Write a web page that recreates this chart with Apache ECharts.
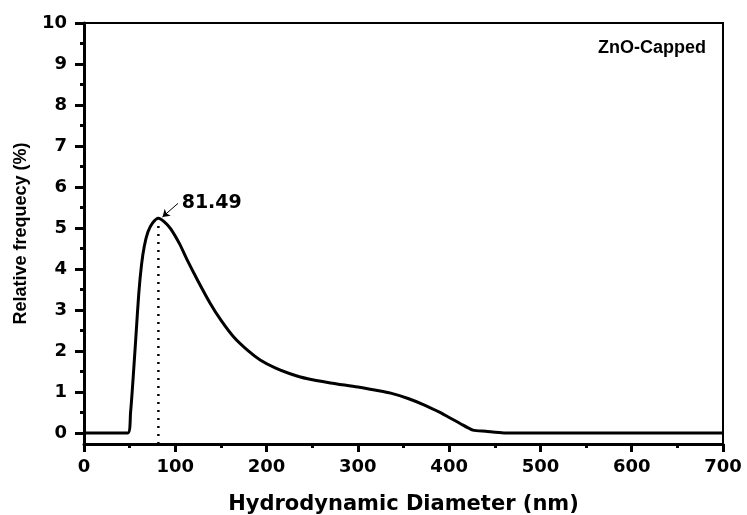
<!DOCTYPE html>
<html lang="en">
<head>
  <meta charset="UTF-8">
  <title>ZnO-Capped DLS</title>
  <script src="https://cdn.jsdelivr.net/npm/echarts@6/dist/echarts.min.js"></script>
  <style>
    html, body { margin: 0; padding: 0; background: #fff; }
  </style>
</head>
<body>
<!--粒径分布曲线-->
<div id="main" style="width:747px;height:515px;"></div>
<script>
  //粒径 nm
  const diameter = [0, 48, 51, 54, 57, 60, 63, 66, 70, 75, 81.5, 88, 95, 105, 113, 125, 138, 150, 164, 180, 193, 210, 225, 245, 270, 300, 320, 336, 355, 373, 390, 399, 412, 426, 440, 460, 700];
  //相对频率 %
  const frequency = [0, 0, 0.5, 1.4, 2.4, 3.4, 4.1, 4.55, 4.9, 5.12, 5.24, 5.15, 4.98, 4.6, 4.22, 3.7, 3.17, 2.75, 2.34, 2.0, 1.78, 1.58, 1.45, 1.32, 1.22, 1.12, 1.04, 0.97, 0.84, 0.68, 0.5, 0.39, 0.23, 0.07, 0.04, 0, 0];
  //峰值
  const peakX = 81.49;
  const peakY = 5.24;
  const yMin = -0.27;
  const yMajor = [0, 1, 2, 3, 4, 5, 6, 7, 8, 9, 10];
  const yMinor = [0.5, 1.5, 2.5, 3.5, 4.5, 5.5, 6.5, 7.5, 8.5, 9.5];

  const font = 'DejaVu Sans, sans-serif';
  const arial = 'Liberation Sans, Arial, sans-serif';
  let myChart = echarts.init(document.getElementById('main'));
  let option = {
    backgroundColor: '#fff',
    animation: false,
    grid: {
      left: 84, right: 24, top: 23, bottom: 71,
      outerBoundsMode: 'none', containLabel: false,
      show: true, borderColor: '#000', borderWidth: 2
    },
    graphic: [{
      type: 'text', right: 41, top: 39,
      style: { text: 'ZnO-Capped', font: 'bold 18px ' + arial, fill: '#000' }
    }],
    xAxis: {
      type: 'value', min: 0, max: 700, interval: 100,
      name: 'Hydrodynamic Diameter (nm)', nameLocation: 'middle', nameGap: 50,
      nameTextStyle: { fontFamily: font, fontWeight: 'bold', fontSize: 21, color: '#000' },
      axisLine: { show: true, onZero: false, lineStyle: { color: '#000', width: 3 } },
      axisTick: { show: true, length: 8, lineStyle: { color: '#000', width: 3 } },
      minorTick: { show: true, splitNumber: 2, length: 4, lineStyle: { color: '#000', width: 3 } },
      axisLabel: { fontFamily: font, fontWeight: 'bold', fontSize: 18, color: '#000', margin: 14 },
      splitLine: { show: false }
    },
    yAxis: [{
      type: 'value', min: yMin, max: 10,
      name: 'Relative frequecy (%)', nameLocation: 'middle', nameGap: 54,
      nameTextStyle: { fontFamily: arial, fontWeight: 'bold', fontSize: 18, color: '#000' },
      axisLine: { show: true, onZero: false, lineStyle: { color: '#000', width: 3 } },
      axisTick: { show: true, length: 9, customValues: yMajor, lineStyle: { color: '#000', width: 3 } },
      axisLabel: { customValues: yMajor, fontFamily: font, fontWeight: 'bold', fontSize: 18, color: '#000', margin: 17 },
      splitLine: { show: false }
    }, {
      type: 'value', min: yMin, max: 10, position: 'left',
      axisLine: { show: false, onZero: false },
      axisTick: { show: true, length: 4, customValues: yMinor, lineStyle: { color: '#000', width: 3 } },
      axisLabel: { show: false },
      splitLine: { show: false }
    }],
    series: [{
      type: 'line',
      data: diameter.map((d, i) => [d, frequency[i]]),
      smooth: 0.25,
      showSymbol: false,
      lineStyle: { color: '#000', width: 3 },
      markLine: {
        silent: true, animation: false,
        label: { show: false },
        data: [[
          { coord: [103, 5.6], symbol: 'none' },
          { coord: [86, 5.27], symbol: 'arrow', symbolSize: 7 }
        ]],
        lineStyle: { color: '#000', width: 1, type: 'solid' }
      },
      markPoint: {
        silent: true,
        data: [{ coord: [107, 5.6], symbol: 'circle', symbolSize: 0,
          label: { show: true, position: 'right', distance: 0, formatter: '81.49',
            fontFamily: font, fontWeight: 'bold', fontSize: 19, color: '#000' } }]
      }
    }, {
      //峰位虚线
      type: 'line',
      data: [[peakX, yMin], [peakX, peakY - 0.05]],
      showSymbol: false,
      lineStyle: { color: '#000', width: 2.5, type: [2, 6] }
    }]
  };
  myChart.setOption(option);
</script>
</body>
</html>
